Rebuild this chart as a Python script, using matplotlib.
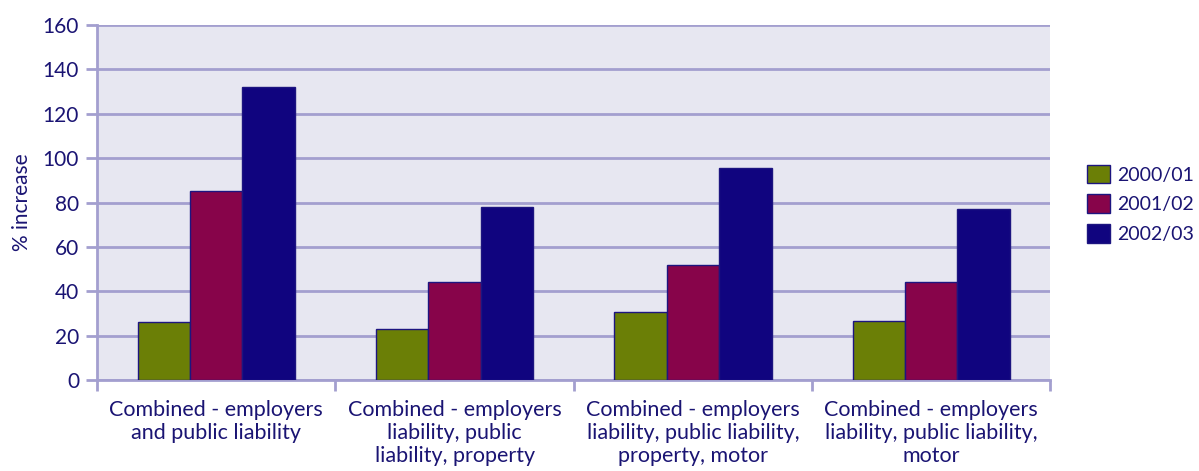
import numpy as np
import matplotlib.pyplot as plt

plt.rcParams['font.family'] = ['Lato', 'DejaVu Sans']

# policy types and yearly premium increases
categories = [
    "Combined - employers\nand public liability",
    "Combined - employers\nliability, public\nliability, property",
    "Combined - employers\nliability, public liability,\nproperty, motor",
    "Combined - employers\nliability, public liability,\nmotor",
]
years = ["2000/01", "2001/02", "2002/03"]
inc_2000 = [26, 23, 30.5, 26.5]
inc_2001 = [85, 44, 52, 44]
inc_2002 = [132, 78, 95.5, 77]

colors = ["#6b7f06", "#87044a", "#10047f"]
text_col = "#1a1473"
grid_col = "#a39fcf"

fig = plt.figure(figsize=(11.99, 4.71), dpi=100)
ax = fig.add_axes([0.081, 0.193, 0.795, 0.754])
ax.set_facecolor("#e7e7f1")

x = np.arange(len(categories))
w = 0.22
for i, (vals, lab) in enumerate(zip([inc_2000, inc_2001, inc_2002], years)):
    ax.bar(x + (i - 1) * w, vals, w, color=colors[i], edgecolor="#1d1580",
           linewidth=1, label=lab, zorder=3)

ax.set_xlim(-0.5, len(categories) - 0.5)
ax.set_ylim(0, 160)
ax.set_yticks(range(0, 161, 20))
ax.yaxis.grid(True, color=grid_col, linewidth=2, zorder=0)
ax.set_axisbelow(True)

for s in ["top", "right"]:
    ax.spines[s].set_visible(False)
for s in ["left", "bottom"]:
    ax.spines[s].set_color(grid_col)
    ax.spines[s].set_linewidth(2)

ax.set_xticks(x)
ax.set_xticklabels(categories, fontsize=15.5, color=text_col,
                   linespacing=1.2, va="top")
ax.tick_params(axis="x", length=0, pad=14)
ax.set_xticks(np.arange(-0.5, len(categories), 1.0), minor=True)
ax.tick_params(axis="x", which="minor", length=8, width=2, color=grid_col)
ax.tick_params(axis="y", length=8, width=2, color=grid_col,
               labelsize=15, labelcolor=text_col, pad=5)
ax.set_ylabel("% increase", fontsize=15, color=text_col, labelpad=8)

fig.legend(loc="center left", bbox_to_anchor=(0.907, 0.567), frameon=False,
           borderpad=0, borderaxespad=0,
           fontsize=14, labelcolor=text_col, handlelength=1.15,
           handleheight=1.1, handletextpad=0.35, labelspacing=0.55)

fig.savefig("out.png", dpi=100, facecolor="white")
